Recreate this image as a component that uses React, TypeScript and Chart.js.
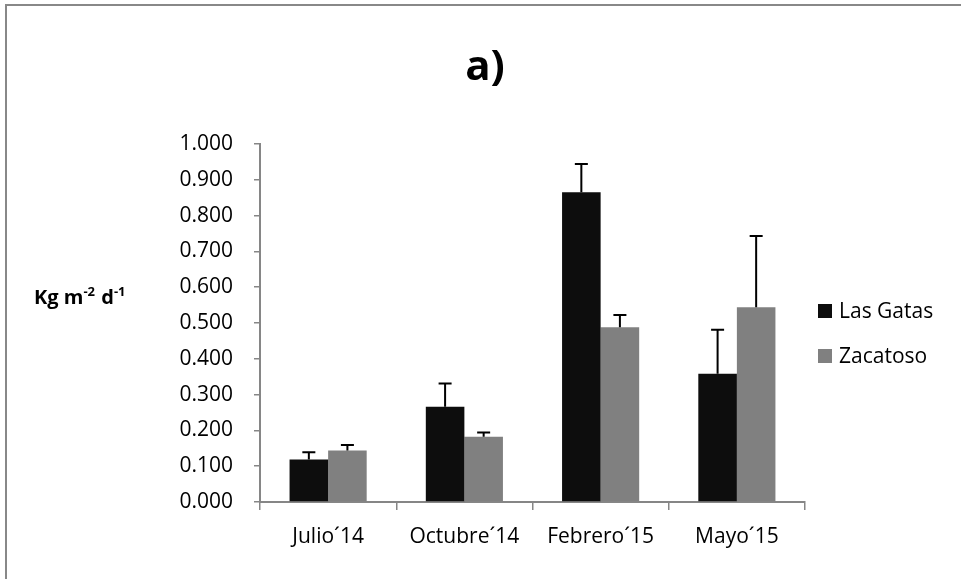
import React, { useEffect, useRef } from "react";
import { Chart, registerables } from "chart.js";

Chart.register(...registerables);

const categories = ["Julio´14", "Octubre´14", "Febrero´15", "Mayo´15"];
const seriesNames = ["Las Gatas", "Zacatoso"];
const lasGatas = [0.119, 0.266, 0.865, 0.358];
const zacatoso = [0.144, 0.182, 0.488, 0.544];
const lasGatasErr = [0.02, 0.065, 0.079, 0.123];
const zacatosoErr = [0.015, 0.012, 0.034, 0.199];
const seriesColors = ["#0d0d0d", "#808080"];
const titleText = "a)";
const yTitleParts = ["Kg m", "-2", " d", "-1"];

const FONT = "'Open Sans', 'Noto Sans', sans-serif";
const AXIS_GRAY = "#868686";

const errorBarPlugin = {
  id: "errorBars",
  afterDatasetsDraw(chart: any) {
    const ctx = chart.ctx;
    const yScale = chart.scales.y;
    chart.data.datasets.forEach((ds: any, i: number) => {
      const meta = chart.getDatasetMeta(i);
      meta.data.forEach((bar: any, j: number) => {
        const v = ds.data[j];
        const e = ds.errors[j];
        const yTop = yScale.getPixelForValue(v + e);
        ctx.save();
        ctx.strokeStyle = "#000";
        ctx.lineWidth = 2;
        ctx.beginPath();
        ctx.moveTo(bar.x, bar.y);
        ctx.lineTo(bar.x, yTop);
        ctx.moveTo(bar.x - 6.5, yTop);
        ctx.lineTo(bar.x + 6.5, yTop);
        ctx.stroke();
        ctx.restore();
      });
    });
  },
};

const customLegendPlugin = {
  id: "customLegend",
  afterDraw(chart: any) {
    const ctx = chart.ctx;
    const area = chart.chartArea;
    ctx.save();
    ctx.font = `21px ${FONT}`;
    ctx.textBaseline = "middle";
    ctx.textAlign = "left";
    chart.data.datasets.forEach((ds: any, i: number) => {
      const cy = 311 + i * 45;
      const bx = area.right + 13;
      ctx.fillStyle = ds.backgroundColor;
      ctx.fillRect(bx, cy - 7, 14, 14);
      ctx.fillStyle = "#000";
      ctx.fillText(ds.label, bx + 21, cy + 1);
    });
    ctx.restore();
  },
};

const titlePlugin = {
  id: "customTitle",
  afterDraw(chart: any) {
    const ctx = chart.ctx;
    ctx.save();
    ctx.fillStyle = "#000";
    ctx.font = `bold 42px ${FONT}`;
    ctx.textAlign = "center";
    ctx.textBaseline = "middle";
    ctx.fillText(titleText, 485, 68);
    ctx.restore();
  },
};

const yTitlePlugin = {
  id: "yTitle",
  afterDraw(chart: any) {
    const ctx = chart.ctx;
    ctx.save();
    ctx.fillStyle = "#000";
    ctx.textBaseline = "alphabetic";
    ctx.textAlign = "left";
    let x = 34;
    const base = 304;
    yTitleParts.forEach((p, k) => {
      const sup = k % 2 === 1;
      ctx.font = `bold ${sup ? 13 : 20}px ${FONT}`;
      ctx.fillText(p, x, sup ? base - 8 : base);
      x += ctx.measureText(p).width + (sup ? 1 : 0);
    });
    ctx.restore();
  },
};

export default function App() {
  const ref = useRef<HTMLCanvasElement | null>(null);

  useEffect(() => {
    if (!ref.current) return;
    const chart = new Chart(ref.current, {
      type: "bar",
      data: {
        labels: categories,
        datasets: [
          {
            label: seriesNames[0],
            data: lasGatas,
            errors: lasGatasErr,
            backgroundColor: seriesColors[0],
            categoryPercentage: 0.566,
            barPercentage: 1,
          } as any,
          {
            label: seriesNames[1],
            data: zacatoso,
            errors: zacatosoErr,
            backgroundColor: seriesColors[1],
            categoryPercentage: 0.566,
            barPercentage: 1,
          } as any,
        ],
      },
      options: {
        animation: false,
        responsive: false,
        maintainAspectRatio: false,
        layout: { padding: { left: 0, right: 156, top: 144, bottom: 0 } },
        plugins: {
          legend: { display: false },
          tooltip: { enabled: false },
          title: { display: false },
        },
        scales: {
          x: {
            afterFit: (s: any) => {
              s.height = 77;
            },
            grid: {
              display: true,
              drawOnChartArea: false,
              drawTicks: true,
              tickLength: 8,
              color: AXIS_GRAY,
              lineWidth: 1.5,
              offset: true,
            },
            border: { display: true, color: AXIS_GRAY, width: 2 },
            ticks: {
              color: "#000",
              font: { family: FONT, size: 21 },
              padding: 14,
              maxRotation: 0,
            },
          },
          y: {
            min: 0,
            max: 1,
            afterFit: (s: any) => {
              s.width = 260;
            },
            grid: {
              display: true,
              drawOnChartArea: false,
              drawTicks: true,
              tickLength: 6,
              color: AXIS_GRAY,
              lineWidth: 1.5,
            },
            border: { display: true, color: AXIS_GRAY, width: 2 },
            ticks: {
              stepSize: 0.1,
              color: "#000",
              font: { family: FONT, size: 21 },
              padding: 21,
              callback: (v: any) => Number(v).toFixed(3),
            },
          },
        },
      } as any,
      plugins: [errorBarPlugin, customLegendPlugin, titlePlugin, yTitlePlugin],
    });
    return () => chart.destroy();
  }, []);

  return (
    <div
      style={{
        position: "fixed",
        left: 0,
        top: 0,
        width: 961,
        height: 579,
        overflow: "hidden",
        background: "#fff",
      }}
    >
      <div
        style={{
          position: "absolute",
          left: 5,
          top: 4,
          width: 1100,
          height: 800,
          border: "2px solid #888888",
          boxSizing: "border-box",
        }}
      />
      <canvas
        ref={ref}
        width={961}
        height={579}
        style={{ position: "absolute", left: 0, top: 0, width: 961, height: 579 }}
      />
    </div>
  );
}
